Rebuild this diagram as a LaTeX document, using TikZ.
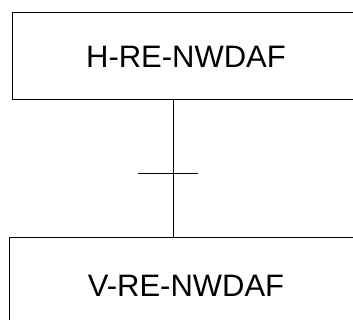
\documentclass[tikz,border=0pt]{standalone}
\usepackage{fontspec}
\setmainfont{Liberation Sans}
\usepackage{tikz}
\usetikzlibrary{calc}
\tikzset{nfbox/.style={draw, line width=1pt, inner sep=0pt, font=\fontsize{31}{36}\selectfont}}

\begin{document}
\begin{tikzpicture}[x=1pt, y=1pt]
\useasboundingbox (0,0) rectangle (353,320);
% the two network function boxes
\node[nfbox, minimum width=348pt, minimum height=87pt] (hre) at (186,263.5) {H-RE-NWDAF};
\node[nfbox, minimum width=354pt, minimum height=95pt] (vre) at (186,34.5) {V-RE-NWDAF};
% interface line with crossing tick
\coordinate (tick) at (173,146);
\draw[line width=1pt] (hre.south -| tick) -- (vre.north -| tick);
\draw[line width=1pt] ($(tick)+(-35,0)$) -- ($(tick)+(25,0)$);
\end{tikzpicture}
\end{document}
